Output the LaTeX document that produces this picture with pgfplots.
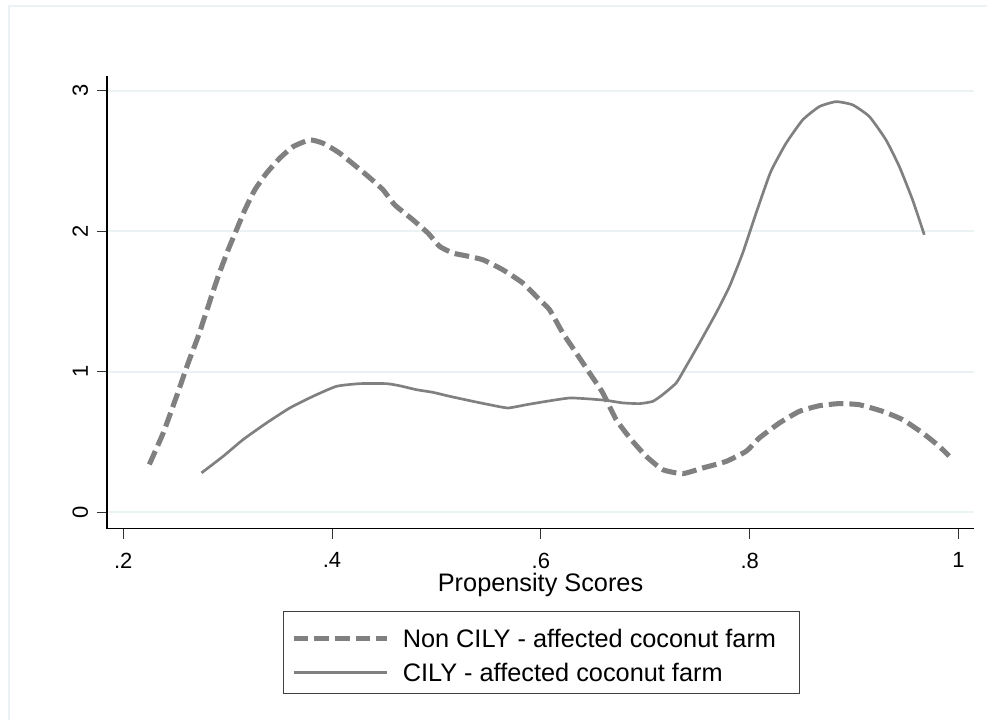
\documentclass[border=0pt]{standalone}
\usepackage{fontspec}
\setmainfont{Liberation Sans}
\usepackage{pgfplots}
\pgfplotsset{compat=1.18}
\usetikzlibrary{backgrounds}
\definecolor{linegray}{RGB}{128,128,128}
\definecolor{gridc}{RGB}{234,242,243}
\pgfplotstableread{
x y
0.225 0.34
0.2383 0.564
0.2511 0.825
0.2622 1.062
0.2718 1.251
0.2813 1.464
0.2909 1.677
0.3005 1.867
0.3085 2.009
0.3165 2.151
0.3260 2.293
0.3372 2.412
0.3500 2.519
0.3627 2.601
0.3787 2.649
0.3914 2.625
0.4074 2.554
0.4329 2.400
0.4488 2.294
0.4600 2.187
0.4775 2.080
0.4919 1.986
0.5031 1.891
0.5158 1.844
0.5286 1.824
0.5445 1.796
0.5636 1.725
0.5828 1.630
0.5987 1.512
0.6083 1.441
0.6210 1.275
0.6339 1.133
0.6466 0.991
0.6593 0.849
0.6721 0.659
0.6865 0.517
0.7009 0.398
0.7167 0.303
0.7359 0.275
0.7550 0.315
0.7774 0.362
0.7966 0.434
0.8093 0.529
0.8284 0.635
0.8476 0.718
0.8667 0.758
0.8858 0.773
0.9050 0.765
0.9273 0.718
0.9464 0.659
0.9656 0.564
0.9815 0.469
0.9910 0.400
}\noncily
\pgfplotstableread{
x y
0.2750 0.280
0.2957 0.398
0.3148 0.517
0.3372 0.635
0.3595 0.742
0.3818 0.825
0.4042 0.896
0.4265 0.915
0.4521 0.915
0.4648 0.900
0.4808 0.872
0.4967 0.853
0.5126 0.825
0.5350 0.789
0.5509 0.765
0.5684 0.742
0.5860 0.765
0.6052 0.789
0.6275 0.813
0.6466 0.806
0.6626 0.796
0.6785 0.778
0.6945 0.773
0.7072 0.789
0.7167 0.837
0.7296 0.920
0.7391 1.038
0.7519 1.204
0.7678 1.417
0.7806 1.606
0.7933 1.844
0.8061 2.128
0.8200 2.420
0.8348 2.625
0.8507 2.791
0.8667 2.886
0.8827 2.921
0.8986 2.898
0.9146 2.815
0.9305 2.649
0.9433 2.459
0.9560 2.222
0.9672 1.974
}\cily
\begin{document}
\begin{tikzpicture}
\begin{axis}[
  scale only axis, width=651pt, height=339.75pt,
  xmin=0.1844, xmax=1.015, ymin=-0.116, ymax=3.104,
  axis x line*=bottom, axis y line*=left,
  axis line style={black, line width=0.9pt},
  xtick={0.2,0.4,0.6,0.8,1}, xticklabels={.2,.4,.6,.8,1},
  ytick={0,1,2,3}, yticklabels={0,1,2,3},
  tick align=outside, major tick length=7.5pt,
  tick style={black!80, line width=0.75pt},
  /pgf/number format/assume math mode=true,
  ymajorgrids, grid style={gridc, line width=1.5pt},
  xticklabel style={font=\fontsize{16.5}{19}\selectfont, inner sep=0pt, anchor=north, yshift=-10.5pt},
  yticklabel style={font=\fontsize{16.5}{19}\selectfont, inner sep=0pt, xshift=-6.75pt, rotate=90, anchor=base},
  xlabel={Propensity Scores},
  xlabel style={at={(axis description cs:0.5,-0.1397)}, anchor=base, font=\fontsize{19}{22}\selectfont, inner sep=0pt},
  legend style={at={(0.2026,-0.181)}, anchor=north west, draw=black!75, line width=0.75pt,
    inner xsep=6pt, inner ysep=5.5pt, column sep=8.25pt, row sep=0pt,
    cells={anchor=base west, inner sep=0pt}, font=\fontsize{19}{22}\selectfont},
  legend image code/.code={\draw[#1] (0pt,6.8pt) -- (69.75pt,6.8pt);},
]
\addplot[linegray, line width=3.8pt, dash pattern=on 11pt off 4.5pt, line cap=butt, smooth, tension=0.3] table {\noncily};
\addlegendentry{\makebox[289.5pt][l]{\rule[-6.3pt]{0pt}{26.25pt}Non CILY - affected coconut farm}}
\addplot[linegray, line width=2pt, smooth, tension=0.3] table {\cily};
\addlegendentry{\makebox[289.5pt][l]{\rule[-6.3pt]{0pt}{26.25pt}CILY - affected coconut farm}}
\coordinate (bl) at (rel axis cs:-0.12327,-0.42384);
\coordinate (tr) at (rel axis cs:1.01498,1.16777);
\coordinate (bd) at (rel axis cs:-0.1129,1.1545);
\end{axis}
\begin{scope}[on background layer]
\fill[white] (bl) rectangle (tr);
\draw[gridc, line width=1.2pt] (bd |- bl) -- (bd) -- (bd -| tr);
\end{scope}
\useasboundingbox (bl) rectangle (tr);
\end{tikzpicture}
\end{document}
